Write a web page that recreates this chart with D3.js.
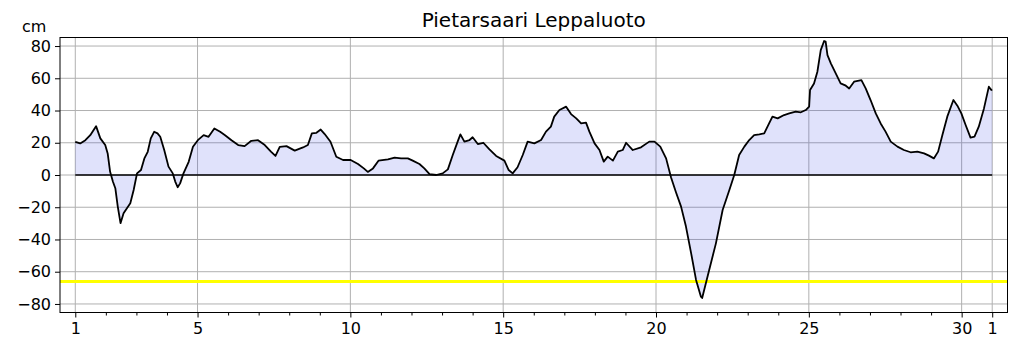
<!DOCTYPE html>
<html lang="fi">
<head>
<meta charset="UTF-8">
<title>Pietarsaari Leppaluoto</title>
<script src="https://cdn.jsdelivr.net/npm/d3@7"></script>
<style>
  body { margin: 0; background: #fff; }
  svg { display: block; font-family: "DejaVu Sans", sans-serif; }
</style>
</head>
<body>
<svg id="chart" width="1019" height="352"></svg>
<script>
// day of month (fractional) and sea level in cm
var days = [
  1.00, 1.16, 1.33, 1.49, 1.68, 1.82, 1.98, 2.06, 2.14, 2.23, 2.31, 2.39, 2.48, 2.58, 2.69, 2.80, 2.91,
  3.02, 3.15, 3.26, 3.37, 3.47, 3.58, 3.69, 3.78, 3.91, 4.05, 4.19, 4.27, 4.35, 4.43, 4.54, 4.71, 4.85,
  5.01, 5.20, 5.36, 5.55, 5.74, 5.90, 6.11, 6.33, 6.54, 6.76, 6.98, 7.20, 7.41, 7.55, 7.69, 7.91,
  8.18, 8.45, 8.61, 8.74, 8.89, 9.03, 9.16, 9.35, 9.54, 9.76, 10.01, 10.25, 10.44, 10.57, 10.74, 10.92,
  11.23, 11.45, 11.66, 11.88, 12.04, 12.26, 12.42, 12.59, 12.81, 13.02, 13.19, 13.35, 13.51, 13.60,
  13.73, 13.90, 14.00, 14.17, 14.35, 14.55, 14.77, 15.04, 15.18, 15.31, 15.47, 15.64, 15.80, 16.02,
  16.24, 16.40, 16.56, 16.67, 16.84, 17.06, 17.22, 17.39, 17.55, 17.71, 17.82, 17.99, 18.15, 18.29,
  18.42, 18.59, 18.75, 18.91, 19.02, 19.24, 19.51, 19.78, 19.95, 20.14, 20.33, 20.49, 20.65, 20.82,
  20.98, 21.15, 21.31, 21.47, 21.51, 21.74, 21.96, 22.18, 22.40, 22.56, 22.72, 22.89, 23.05, 23.21,
  23.38, 23.54, 23.70, 23.81, 23.98, 24.19, 24.36, 24.57, 24.74, 24.90, 25.01, 25.04, 25.17, 25.28,
  25.39, 25.50, 25.55, 25.61, 25.72, 25.88, 26.04, 26.21, 26.32, 26.48, 26.72, 26.86, 27.02, 27.19,
  27.35, 27.51, 27.68, 27.90, 28.11, 28.33, 28.55, 28.77, 28.93, 29.09, 29.23, 29.37, 29.53, 29.73,
  29.86, 29.99, 30.13, 30.29, 30.42, 30.56, 30.73, 30.89, 30.97, 31.00
];
var levels = [
  20.6, 19.6, 21.6, 24.7, 30.3, 22.7, 18.6, 13.4, 2.0, -4.0, -8.2, -19.6, -29.9, -23.7, -20.6, -17.5, -9.3,
  1.0, 3.1, 10.3, 14.4, 22.7, 26.8, 25.8, 23.7, 15.5, 5.2, 1.0, -4.1, -7.6, -5.2, 1.0, 8.2, 17.5,
  21.6, 24.7, 23.7, 28.9, 26.8, 24.7, 21.6, 18.6, 17.9, 21.2, 21.6, 18.6, 14.4, 11.8, 17.5, 17.9,
  15.1, 17.1, 18.6, 25.8, 26.2, 28.2, 25.4, 20.6, 11.3, 9.3, 9.3, 6.8, 4.1, 1.9, 4.1, 8.9,
  9.7, 10.8, 10.3, 10.3, 8.9, 6.8, 4.1, 0.6, 0.0, 1.0, 3.5, 12.4, 20.7, 25.2,
  20.7, 21.7, 23.4, 19.2, 20.0, 15.9, 11.8, 8.9, 3.1, 1.0, 4.8, 12.4, 20.7, 19.6,
  21.7, 26.9, 30.0, 36.2, 40.3, 42.4, 37.8, 35.1, 32.0, 32.5, 26.9, 19.6, 15.5, 8.3,
  11.4, 8.9, 14.5, 15.5, 20.0, 15.5, 17.2, 20.7, 20.7, 17.6, 10.3, -1.4, -10.5, -19.6,
  -32.0, -48.6, -65.1, -75.5, -76.3, -58.9, -42.4, -21.7, -9.3, 0.0, 12.4, 17.6, 21.7, 24.8,
  25.2, 25.8, 32.0, 36.2, 35.1, 37.2, 38.2, 39.3, 38.9, 40.3, 42.4, 52.7, 56.8, 64.1,
  77.5, 83.1, 82.7, 74.4, 69.3, 63.0, 56.8, 55.4, 53.7, 57.9, 58.9, 53.7, 46.5, 38.2,
  32.0, 26.9, 20.7, 17.6, 15.5, 14.1, 14.5, 13.4, 12.0, 10.3, 14.5, 24.8, 36.2, 46.5,
  43.0, 38.2, 31.0, 23.2, 23.8, 30.0, 41.3, 54.8, 52.7, 53.0
];

var yTicks = [-80, -60, -40, -20, 0, 20, 40, 60, 80];
var xMajorTicks = [1, 5, 10, 15, 20, 25, 30, 31];
var xMajorLabels = ["1", "5", "10", "15", "20", "25", "30", "1"];
var xMinorTicks = d3.range(2, 30).filter(function(d){ return xMajorTicks.indexOf(d) < 0; });
var alarmLevel = -66;   // yellow reference line
var title = "Pietarsaari Leppaluoto";
var unit = "cm";

var svg = d3.select("#chart");
var pLeft = 60, pRight = 1007.5, pTop = 37.5, pBottom = 312.5;

var x = d3.scaleLinear().domain([0.5, 31.5]).range([pLeft, pRight]);
var y = d3.scaleLinear().domain([-85.3, 85.3]).range([pBottom, pTop]);

var data = days.map(function(d, i){ return {day: d, v: levels[i]}; });

// grid
svg.append("g").selectAll("line")
  .data(yTicks).join("line")
  .attr("x1", pLeft).attr("x2", pRight)
  .attr("y1", function(d){ return y(d); }).attr("y2", function(d){ return y(d); })
  .attr("stroke", "#b0b0b0").attr("stroke-width", 1);
svg.append("g").selectAll("line")
  .data(xMajorTicks).join("line")
  .attr("x1", function(d){ return x(d); }).attr("x2", function(d){ return x(d); })
  .attr("y1", pTop).attr("y2", pBottom)
  .attr("stroke", "#b0b0b0").attr("stroke-width", 1);

// fill between zero and level
var area = d3.area()
  .x(function(d){ return x(d.day); })
  .y0(y(0))
  .y1(function(d){ return y(d.v); });
svg.append("path").datum(data)
  .attr("d", area)
  .attr("fill", "#2030e0").attr("fill-opacity", 0.14);

// zero line
svg.append("line")
  .attr("x1", x(1)).attr("x2", x(31))
  .attr("y1", y(0)).attr("y2", y(0))
  .attr("stroke", "#000").attr("stroke-width", 1.3);

// yellow line
svg.append("line")
  .attr("x1", pLeft).attr("x2", pRight)
  .attr("y1", y(alarmLevel)).attr("y2", y(alarmLevel))
  .attr("stroke", "#ffff00").attr("stroke-width", 3);

// sea level line
var line = d3.line()
  .x(function(d){ return x(d.day); })
  .y(function(d){ return y(d.v); });
svg.append("path").datum(data)
  .attr("d", line)
  .attr("fill", "none").attr("stroke", "#000").attr("stroke-width", 1.8)
  .attr("stroke-linejoin", "round");

// frame
svg.append("rect")
  .attr("x", pLeft).attr("y", pTop)
  .attr("width", pRight - pLeft).attr("height", pBottom - pTop)
  .attr("fill", "none").attr("stroke", "#000").attr("stroke-width", 1);

// axes
var yAxis = d3.axisLeft(y).tickValues(yTicks).tickSize(5).tickPadding(4);
var gy = svg.append("g").attr("transform", "translate(" + pLeft + ",0)").call(yAxis);

var xAxis = d3.axisBottom(x).tickValues(xMajorTicks).tickSize(5).tickPadding(5)
  .tickFormat(function(d, i){ return xMajorLabels[i]; });
var gx = svg.append("g").attr("transform", "translate(0," + pBottom + ")").call(xAxis);

var xMinor = d3.axisBottom(x).tickValues(xMinorTicks).tickSize(3).tickFormat("");
var gxm = svg.append("g").attr("transform", "translate(0," + pBottom + ")").call(xMinor);

[gy, gx, gxm].forEach(function(g){
  g.select(".domain").remove();
  g.selectAll(".tick line").attr("stroke", "#000");
  g.selectAll("text").attr("font-size", 16).attr("fill", "#000")
    .attr("font-family", "DejaVu Sans, sans-serif");
});

// title and unit
svg.append("text")
  .attr("x", (pLeft + pRight) / 2).attr("y", 27)
  .attr("text-anchor", "middle")
  .attr("font-size", 20).attr("fill", "#000")
  .text(title);
svg.append("text")
  .attr("x", 22).attr("y", 32)
  .attr("font-size", 16).attr("fill", "#000")
  .text(unit);
</script>
</body>
</html>
